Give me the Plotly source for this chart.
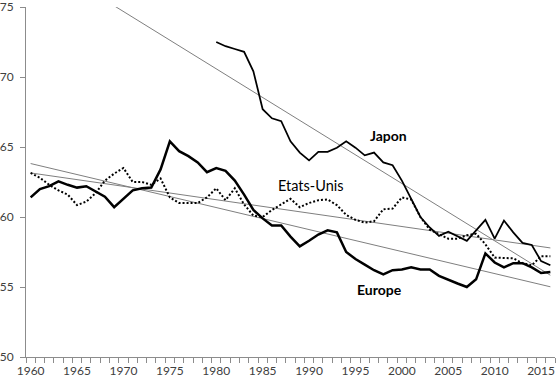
import numpy as np
import plotly.graph_objects as go

years = list(range(1960, 2017))

europe = [61.4, 62.0, 62.2, 62.55, 62.3, 62.1, 62.2, 61.8, 61.45, 60.7,
          61.3, 61.9, 62.05, 62.1, 63.4, 65.4, 64.7, 64.35, 63.9, 63.2,
          63.5, 63.3, 62.6, 61.6, 60.5, 59.9, 59.4, 59.4, 58.6, 57.9,
          58.3, 58.75, 59.05, 58.9, 57.5, 57.0, 56.6, 56.2, 55.9, 56.2,
          56.25, 56.4, 56.25, 56.25, 55.8, 55.5, 55.25, 55.0, 55.55, 57.4,
          56.75, 56.4, 56.7, 56.7, 56.4, 56.0, 56.07]

etats_unis = [63.15, 62.8, 62.3, 61.9, 61.6, 60.85, 61.1, 61.7, 62.6, 63.1,
              63.5, 62.5, 62.5, 62.3, 62.75, 61.4, 61.0, 61.0, 61.0, 61.4,
              62.05, 61.2, 62.05, 60.9, 60.1, 60.0, 60.5, 60.9, 61.3, 60.7,
              61.0, 61.2, 61.25, 60.85, 60.15, 59.8, 59.6, 59.7, 60.55, 60.6,
              61.4, 61.25, 60.0, 59.1, 58.8, 58.45, 58.45, 58.7, 58.8, 58.05,
              57.1, 57.1, 57.05, 56.7, 56.55, 57.2, 57.2]

japon = [None] * 20 + [72.5, 72.2, 72.0, 71.8, 70.4, 67.7, 67.05, 66.85, 65.4, 64.6,
                       64.05, 64.65, 64.65, 64.95, 65.4, 64.95, 64.4, 64.6, 63.9, 63.7,
                       62.6, 61.25, 60.0, 59.25, 58.65, 58.95, 58.6, 58.3, 59.05, 59.8,
                       58.45, 59.75, 58.9, 58.15, 58.0, 56.85, 56.55]

tick_years = [1960, 1965, 1970, 1975, 1980, 1985, 1990, 1995, 2000, 2005, 2010, 2015]
y_ticks = [50, 55, 60, 65, 70, 75]

FONT = "Lato"
TREND_COLOR = "#7f7f7f"


def trend(values):
    xs = np.array([y for y, v in zip(years, values) if v is not None], dtype=float)
    vs = np.array([v for v in values if v is not None], dtype=float)
    slope, intercept = np.polyfit(xs, vs, 1)
    x_all = np.array(years, dtype=float)
    return x_all, slope * x_all + intercept


fig = go.Figure()

for series in (japon, etats_unis, europe):
    tx, ty = trend(series)
    fig.add_trace(go.Scatter(x=tx, y=ty, mode="lines",
                             line=dict(color=TREND_COLOR, width=1),
                             hoverinfo="skip", showlegend=False))

fig.add_trace(go.Scatter(x=years, y=etats_unis, mode="lines", name="Etats-Unis",
                         line=dict(color="black", width=2, dash="2px,2px"),
                         showlegend=False))
fig.add_trace(go.Scatter(x=years, y=japon, mode="lines", name="Japon",
                         line=dict(color="black", width=1.75),
                         connectgaps=False, showlegend=False))
fig.add_trace(go.Scatter(x=years, y=europe, mode="lines", name="Europe",
                         line=dict(color="black", width=2.5),
                         showlegend=False))

fig.add_annotation(x=1998.6, y=65.85, text="<b>Japon</b>", showarrow=False,
                   font=dict(family=FONT, size=14, color="black"))
fig.add_annotation(x=1990.2, y=62.25, text="Etats-Unis", showarrow=False,
                   font=dict(family=FONT, size=14.5, color="black"))
fig.add_annotation(x=1997.6, y=54.8, text="<b>Europe</b>", showarrow=False,
                   font=dict(family=FONT, size=14, color="black"))

fig.update_layout(
    width=557, height=379,
    margin=dict(l=26, r=2, t=7, b=22, autoexpand=False),
    paper_bgcolor="white", plot_bgcolor="white",
    font=dict(family=FONT, size=12, color="#404040"),
)

fig.update_xaxes(
    range=[1959.5, 2016.5], automargin=False,
    tickvals=tick_years, ticktext=[str(t) for t in tick_years],
    ticks="", showgrid=False, zeroline=False,
    showline=True, linecolor="#8c8c8c", linewidth=1,
    ticklabelstandoff=3, ticklabeloverflow="allow",
    tickfont=dict(family=FONT, size=12, color="#404040"),
    minor=dict(ticks="outside", tick0=1959.5, dtick=1, ticklen=5,
               tickcolor="#8c8c8c", showgrid=False),
)

fig.update_yaxes(
    range=[50, 75], automargin=False,
    tickvals=y_ticks,
    ticks="outside", ticklen=5, tickcolor="#8c8c8c",
    showgrid=False, zeroline=False,
    showline=True, linecolor="#8c8c8c", linewidth=1,
    ticklabelstandoff=4, ticklabeloverflow="allow",
    tickfont=dict(family=FONT, size=12, color="#404040"),
)

fig.write_html(
    "out.html",
    config={"displayModeBar": False},
    post_script="document.body.style.margin='0';document.body.style.overflow='hidden';",
)
